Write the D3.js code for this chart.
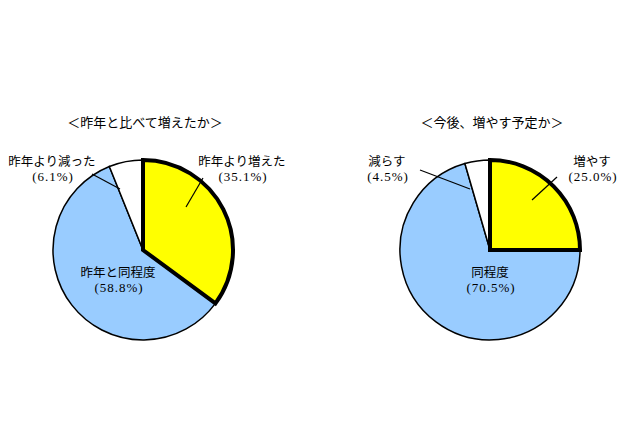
<!DOCTYPE html>
<html><head><meta charset="utf-8">
<script src="https://cdn.jsdelivr.net/npm/d3@7"></script>
<style>body{margin:0;background:#fff}svg{display:block}text{font-family:"Noto Sans CJK JP",sans-serif;font-size:12.5px;fill:#000}.pct{font-family:"Liberation Serif",serif;font-size:13px;letter-spacing:1px}</style>
</head><body>
<svg id="c" width="640" height="426"></svg>
<script>
const titles = ["＜昨年と比べて増えたか＞", "＜今後、増やす予定か＞"];
const categoriesA = ["昨年より増えた", "昨年と同程度", "昨年より減った"];
const valuesA = [35.1, 58.8, 6.1];
const categoriesB = ["増やす", "同程度", "減らす"];
const valuesB = [25.0, 70.5, 4.5];
const colors = ["#ffff00", "#99ccff", "#ffffff"];

const svg = d3.select("#c");
const R = 90;
const charts = [
  {cx:143, cy:250, title:titles[0], cats:categoriesA, vals:valuesA,
   labels:[{x:242,y:162, line:[[186,207],[203,178]]},{x:118,y:273,line:null},{x:52,y:162,line:[[92,174],[120,189]]}]},
  {cx:490, cy:250, title:titles[1], cats:categoriesB, vals:valuesB,
   labels:[{x:592,y:162, line:[[532,200],[557,177]]},{x:490,y:273,line:null},{x:387,y:162,line:[[420,170],[470,189]]}]}
];
const pie = d3.pie().sort(null).value(d=>d);
const arc = d3.arc().innerRadius(0).outerRadius(R);
charts.forEach(ch=>{
  const g = svg.append("g").attr("transform",`translate(${ch.cx},${ch.cy})`);
  const arcs = pie(ch.vals);
  [1,2,0].forEach(i=>{
    g.append("path").attr("d",arc(arcs[i])).attr("fill",colors[i])
      .attr("stroke","#000").attr("stroke-width", i===0?4:1.5).attr("stroke-linejoin","miter");
  });
  svg.append("text").attr("x",ch.cx+2).attr("y",127).attr("text-anchor","middle").style("font-size","13px").text(ch.title);
  ch.labels.forEach((l,i)=>{
    if(l.line) svg.append("line").attr("x1",l.line[0][0]).attr("y1",l.line[0][1]).attr("x2",l.line[1][0]).attr("y2",l.line[1][1]).attr("stroke","#000").attr("stroke-width",1.2);
    svg.append("text").attr("x",l.x).attr("y",l.y+4).attr("text-anchor","middle").text(ch.cats[i]);
    svg.append("text").attr("class","pct").attr("x",l.x+1).attr("y",l.y+19).attr("text-anchor","middle").text("("+ch.vals[i].toFixed(1)+"%)");
  });
});
</script>
</body></html>
